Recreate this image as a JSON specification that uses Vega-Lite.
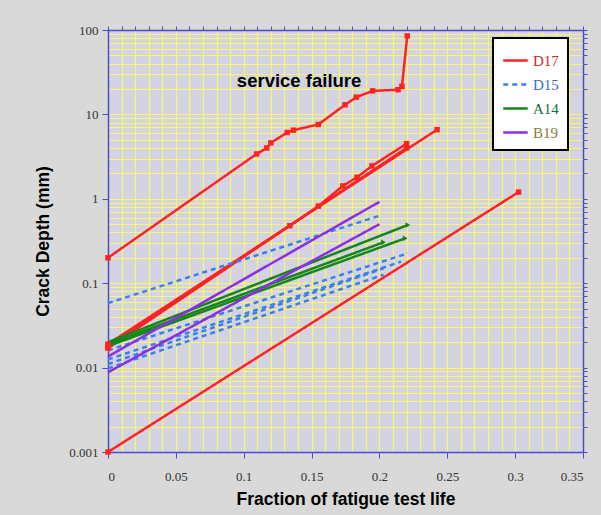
{
  "$schema": "https://vega.github.io/schema/vega-lite/v6.json",
  "width": 475,
  "height": 422,
  "autosize": {"type": "none"},
  "padding": {"left": 108, "top": 30, "right": 18, "bottom": 63},
  "background": "#d9d9d9",
  "view": {"fill": "#d3d3e1", "stroke": null},
  "config": {
    "axis": {"domainColor": "#4b4bd0", "tickColor": "#4b4bd0", "domainWidth": 1.5}
  },
  "datasets": {
    "curves": [
      {"series": "D17", "id": "D17-f", "x": 0, "y": 0.2},
      {"series": "D17", "id": "D17-f", "x": 0.1095, "y": 3.4},
      {"series": "D17", "id": "D17-f", "x": 0.117, "y": 4.0},
      {"series": "D17", "id": "D17-f", "x": 0.12, "y": 4.6},
      {"series": "D17", "id": "D17-f", "x": 0.132, "y": 6.1},
      {"series": "D17", "id": "D17-f", "x": 0.1366, "y": 6.5},
      {"series": "D17", "id": "D17-f", "x": 0.155, "y": 7.6},
      {"series": "D17", "id": "D17-f", "x": 0.1747, "y": 13},
      {"series": "D17", "id": "D17-f", "x": 0.183, "y": 16},
      {"series": "D17", "id": "D17-f", "x": 0.195, "y": 19},
      {"series": "D17", "id": "D17-f", "x": 0.2137, "y": 19.6},
      {"series": "D17", "id": "D17-f", "x": 0.2166, "y": 21.5},
      {"series": "D17", "id": "D17-f", "x": 0.2205, "y": 85},
      {"series": "D17", "id": "D17-b", "x": 0, "y": 0.019},
      {"series": "D17", "id": "D17-b", "x": 0.2425, "y": 6.6},
      {"series": "D17", "id": "D17-c", "x": 0, "y": 0.017},
      {"series": "D17", "id": "D17-c", "x": 0.134, "y": 0.48},
      {"series": "D17", "id": "D17-c", "x": 0.155, "y": 0.82},
      {"series": "D17", "id": "D17-c", "x": 0.173, "y": 1.42},
      {"series": "D17", "id": "D17-c", "x": 0.1835, "y": 1.8},
      {"series": "D17", "id": "D17-c", "x": 0.1945, "y": 2.45},
      {"series": "D17", "id": "D17-c", "x": 0.22, "y": 4.5},
      {"series": "D17", "id": "D17-d", "x": 0, "y": 0.018},
      {"series": "D17", "id": "D17-d", "x": 0.22, "y": 4.0},
      {"series": "D17", "id": "D17-e", "x": 0, "y": 0.001},
      {"series": "D17", "id": "D17-e", "x": 0.3025, "y": 1.2},
      {"series": "D15", "id": "D15-a", "x": 0, "y": 0.058},
      {"series": "D15", "id": "D15-a", "x": 0.2, "y": 0.63},
      {"series": "D15", "id": "D15-b", "x": 0, "y": 0.016},
      {"series": "D15", "id": "D15-b", "x": 0.221, "y": 0.226},
      {"series": "D15", "id": "D15-c", "x": 0, "y": 0.0125},
      {"series": "D15", "id": "D15-c", "x": 0.216, "y": 0.18},
      {"series": "D15", "id": "D15-d", "x": 0, "y": 0.0098},
      {"series": "D15", "id": "D15-d", "x": 0.203, "y": 0.126},
      {"series": "D15", "id": "D15-e", "x": 0, "y": 0.011},
      {"series": "D15", "id": "D15-e", "x": 0.203, "y": 0.15},
      {"series": "A14", "id": "A14-a", "x": 0, "y": 0.02},
      {"series": "A14", "id": "A14-a", "x": 0.221, "y": 0.49},
      {"series": "A14", "id": "A14-b", "x": 0, "y": 0.019},
      {"series": "A14", "id": "A14-b", "x": 0.203, "y": 0.305},
      {"series": "A14", "id": "A14-c", "x": 0, "y": 0.018},
      {"series": "A14", "id": "A14-c", "x": 0.219, "y": 0.34},
      {"series": "B19", "id": "B19-a", "x": 0, "y": 0.0135},
      {"series": "B19", "id": "B19-a", "x": 0.2, "y": 0.92},
      {"series": "B19", "id": "B19-b", "x": 0, "y": 0.0088},
      {"series": "B19", "id": "B19-b", "x": 0.2, "y": 0.5}
    ],
    "notes": [{"label": "service failure", "x": 0.1408, "y": 25}]
  },
  "layer": [
    {
      "data": {"name": "curves"},
      "mark": {"type": "point", "opacity": 0},
      "encoding": {
        "x": {
          "field": "x", "type": "quantitative",
          "scale": {"domain": [0, 0.35], "nice": false, "zero": false},
          "axis": {
            "orient": "top", "title": null, "labels": false,
            "values": [0,0.01,0.02,0.03,0.04,0.05,0.06,0.07,0.08,0.09,0.1,0.11,0.12,0.13,0.14,0.15,0.16,0.17,0.18,0.19,0.2,0.21,0.22,0.23,0.24,0.25,0.26,0.27,0.28,0.29,0.3,0.31,0.32,0.33,0.34,0.35],
            "grid": true, "gridColor": "#f8f86a", "gridWidth": 1.2, "gridOpacity": 1,
            "tickSize": 4
          }
        },
        "y": {
          "field": "y", "type": "quantitative",
          "scale": {"type": "log", "domain": [0.001, 100], "nice": false},
          "axis": {
            "orient": "right", "title": null, "labels": false,
            "values": [0.001,0.002,0.003,0.004,0.005,0.006,0.007,0.008,0.009,0.01,0.02,0.03,0.04,0.05,0.06,0.07,0.08,0.09,0.1,0.2,0.3,0.4,0.5,0.6,0.7,0.8,0.9,1,2,3,4,5,6,7,8,9,10,20,30,40,50,60,70,80,90,100],
            "grid": true, "gridColor": "#f8f86a", "gridWidth": 1.2, "gridOpacity": 1,
            "tickSize": 4
          }
        }
      }
    },
    {
      "data": {"name": "curves"},
      "mark": {"type": "line", "strokeWidth": 2.5},
      "encoding": {
        "x": {
          "field": "x", "type": "quantitative",
          "scale": {"domain": [0, 0.35], "nice": false, "zero": false},
          "axis": {
            "orient": "bottom", "values": [0,0.05,0.1,0.15,0.2,0.25,0.3,0.35], "format": "~g",
            "grid": false, "tickSize": 6,
            "labelFont": "Liberation Serif", "labelFontSize": 13, "labelColor": "#333333", "labelPadding": 12,
            "title": "Fraction of fatigue test life", "titleFont": "Liberation Sans", "titleFontSize": 17.5,
            "titleFontWeight": "bold", "titleColor": "#000000", "titlePadding": 7
          }
        },
        "y": {
          "field": "y", "type": "quantitative",
          "scale": {"type": "log", "domain": [0.001, 100], "nice": false},
          "axis": {
            "orient": "left", "values": [0.001,0.01,0.1,1,10,100], "format": "~g",
            "grid": false, "tickSize": 6,
            "labelFont": "Liberation Serif", "labelFontSize": 13, "labelColor": "#333333", "labelPadding": 4,
            "title": "Crack Depth (mm)", "titleFont": "Liberation Sans", "titleFontSize": 17.5,
            "titleFontWeight": "bold", "titleColor": "#000000", "titlePadding": 16
          }
        },
        "detail": {"field": "id"},
        "color": {
          "field": "series", "type": "nominal",
          "scale": {"domain": ["D17", "D15", "A14", "B19"], "range": ["#ff2222", "#3a80f0", "#15861a", "#8c2ee8"]},
          "legend": {
            "title": null, "orient": "none", "legendX": 385, "legendY": 8,
            "fillColor": "#ffffff", "strokeColor": "#000000", "padding": 9,
            "symbolType": "stroke", "symbolSize": 600, "symbolStrokeWidth": 2.5,
            "labelFont": "Liberation Serif", "labelFontSize": 15, "rowPadding": 2, "labelOffset": 4,
            "encode": {
              "legend": {"update": {"strokeWidth": {"value": 2}}},
              "labels": {"update": {"fill": {"signal": "datum.value == 'D17' ? '#cc2a2a' : datum.value == 'D15' ? '#3a6ad0' : datum.value == 'A14' ? '#1f6a3a' : '#8a7a35'"}}}
            }
          }
        },
        "strokeDash": {
          "field": "series", "type": "nominal",
          "scale": {"domain": ["D17", "D15", "A14", "B19"], "range": [[1, 0], [5, 4], [1, 0], [1, 0]]},
          "legend": null
        }
      }
    },
    {
      "data": {"name": "curves"},
      "transform": [{"filter": "datum.series == 'D17'"}],
      "mark": {"type": "point", "shape": "square", "filled": true, "size": 30, "color": "#ff2222", "opacity": 1},
      "encoding": {
        "x": {"field": "x", "type": "quantitative", "axis": null},
        "y": {"field": "y", "type": "quantitative", "axis": null}
      }
    },
    {
      "data": {"name": "curves"},
      "transform": [{"filter": "datum.series == 'A14' && datum.x > 0"}],
      "mark": {"type": "point", "shape": "triangle-right", "filled": true, "size": 30, "color": "#15861a", "opacity": 1},
      "encoding": {
        "x": {"field": "x", "type": "quantitative", "axis": null},
        "y": {"field": "y", "type": "quantitative", "axis": null}
      }
    },
    {
      "data": {"name": "notes"},
      "mark": {"type": "text", "font": "Liberation Sans", "fontSize": 18.5, "fontWeight": "bold", "color": "#000000", "align": "center", "baseline": "middle"},
      "encoding": {
        "x": {"field": "x", "type": "quantitative", "axis": null},
        "y": {"field": "y", "type": "quantitative", "axis": null},
        "text": {"field": "label"}
      }
    }
  ],
  "resolve": {"axis": {"x": "independent", "y": "independent"}}
}
